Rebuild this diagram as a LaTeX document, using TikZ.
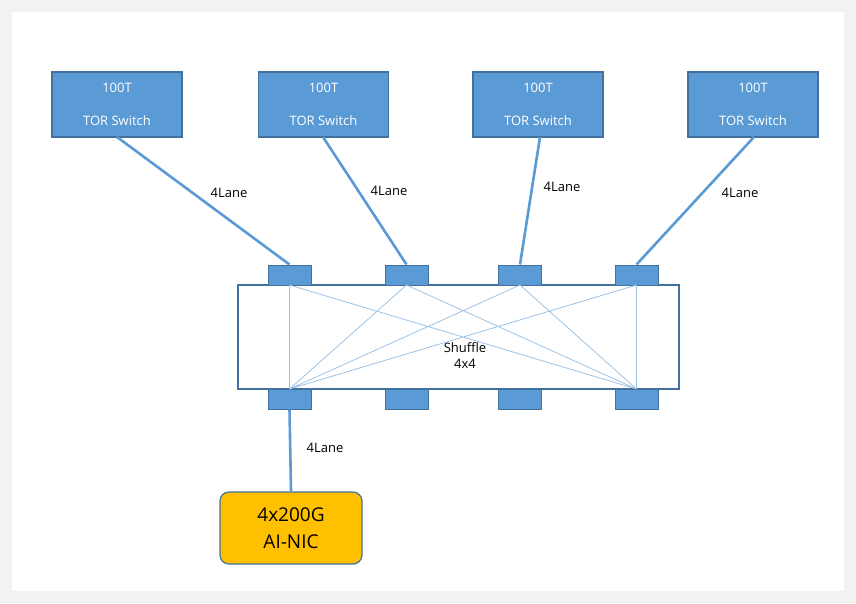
\documentclass[tikz,border=0pt]{standalone}
\usepackage{fontspec}
\setmainfont{Open Sans}
\definecolor{bl}{HTML}{5B9BD5}
\definecolor{bd}{HTML}{41719C}
\definecolor{lb}{HTML}{9DC3E6}
\definecolor{nic}{HTML}{FFC000}
\begin{document}
\begin{tikzpicture}[x=1pt,y=-1pt,
 tor/.style={draw=bd,fill=bl,line width=1.2pt,minimum width=130pt,minimum height=65pt,align=center,text=white,font=\fontsize{13}{33}\selectfont,inner sep=0},
 port/.style={draw=bd,fill=bl,line width=1pt,minimum width=43pt,minimum height=20pt,inner sep=0},
 link/.style={bl,line width=2.6pt},
 cross/.style={lb,line width=0.8pt},
 lab/.style={font=\fontsize{13}{16}\selectfont}]
\fill[gray!10] (0,0) rectangle (856,603);
\fill[white] (12,12) rectangle (844,591);
\useasboundingbox (0,0) rectangle (856,603);
\foreach \n/\x in {1/117,2/323.5,3/538,4/753}
  \node[tor] (t\n) at (\x,104.5) {100T\\TOR Switch};
\node[draw=bd,line width=1.2pt,fill=white,minimum width=441pt,minimum height=104pt] (sh) at (458.5,337) {};
\node[lab,align=center] (shl) at (465,356) {Shuffle\\4x4};
\foreach \n/\x in {1/289.5,2/406.5,3/520,4/636.5}{
  \node[port] (p\n) at (\x,275) {};
  \node[port] (q\n) at (\x,399) {};
  \coordinate (a\n) at (\x,285);
}
\coordinate (b1) at (289.5,389);
\coordinate (b4) at (636.5,389);
\draw[cross] (a1)--(b1) (a4)--(b4) (a1)--(b4) (a4)--(b1)
  (a2)--(b1) (a2)--(b4) (a3)--(b1) (a3)--(b4);
\draw[link] (t1.south) ++(0,0) coordinate (s1);
\draw[link] (117,137)--(p1.north);
\draw[link] (323,137)--(p2.north);
\draw[link] (540,137)--(p3.north);
\draw[link] (754,137)--(p4.north);
\node[lab] (l1) at (229,193) {4Lane};
\node[lab] (l2) at (389,191) {4Lane};
\node[lab] (l3) at (562,187) {4Lane};
\node[lab] (l4) at (740,193) {4Lane};
\node[draw=bd,fill=nic,line width=1.2pt,rounded corners=9pt,minimum width=142pt,minimum height=72pt,align=center,font=\fontsize{19}{27}\selectfont,inner sep=0] (nic) at (291,528) {4x200G\\AI-NIC};
\draw[link] (q1.south)--(nic.north);
\node[lab] (l5) at (325,448) {4Lane};
\end{tikzpicture}
\end{document}
